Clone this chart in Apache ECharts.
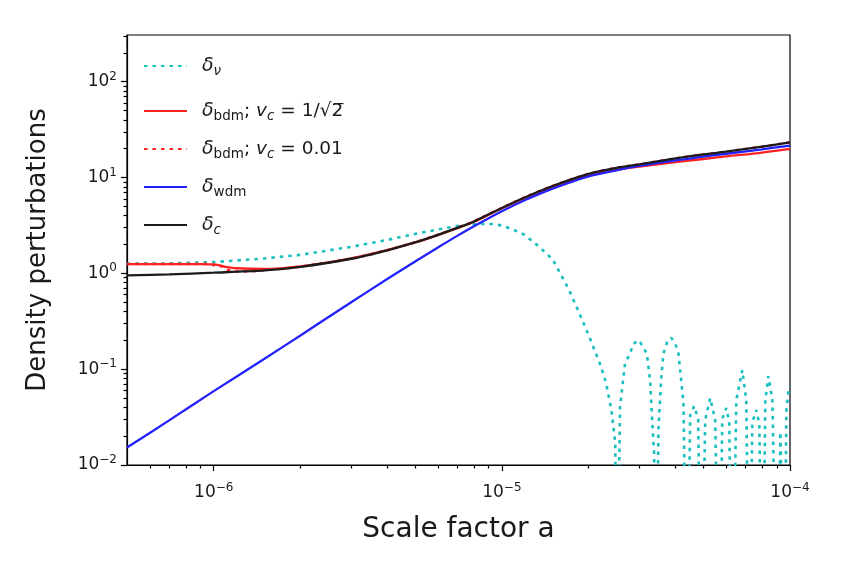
<!DOCTYPE html>
<html><head><meta charset="utf-8">
<script src="https://cdn.jsdelivr.net/npm/echarts@6/dist/echarts.min.js"></script>
<style>html,body{margin:0;padding:0;background:#fff}#c{width:843px;height:570px}</style>
</head><body><div id="c"></div>
<script>
// ---- data ----
const xMin = 5e-7, xMax = 1e-4, yMin = 0.01, yMax = 307;
const aGrid = [5e-7, 7e-7, 1e-6, 1.5e-6, 2e-6, 3e-6, 4e-6, 5e-6, 6e-6, 7e-6, 8e-6, 1e-5, 1.2e-5, 1.5e-5, 2e-5, 2.5e-5, 3e-5, 4e-5, 5e-5, 6e-5, 8e-5, 1e-4];
const deltaC = [0.953, 0.977, 1.016, 1.074, 1.17, 1.42, 1.74, 2.10, 2.52, 2.98, 3.48, 4.81, 6.19, 8.15, 10.9, 12.6, 13.7, 15.8, 17.4, 18.6, 21.0, 23.3];
const deltaWdm = [0.0152, 0.0292, 0.059, 0.1285, 0.225, 0.50, 0.871, 1.33, 1.86, 2.46, 3.10, 4.45, 5.79, 7.66, 10.3, 11.9, 13.2, 15.1, 16.5, 17.7, 19.7, 21.5];
const aBdm1 = [5e-7, 7e-7, 9e-7, 1e-6, 1.05e-6, 1.1e-6, 1.2e-6, 1.5e-6, 2e-6, 3e-6, 4e-6, 5e-6, 6e-6, 7e-6, 8e-6, 1e-5, 1.2e-5, 1.5e-5, 2e-5, 2.5e-5, 3e-5, 4e-5, 5e-5, 6e-5, 8e-5, 1e-4];
const deltaBdm1 = [1.25, 1.25, 1.25, 1.24, 1.21, 1.17, 1.13, 1.11, 1.18, 1.43, 1.75, 2.10, 2.51, 2.96, 3.45, 4.78, 6.10, 8.02, 10.5, 12.0, 13.0, 14.5, 15.6, 16.6, 18.2, 19.9];
const aBdm2 = [5e-7, 7e-7, 9.5e-7, 1e-6, 1.04e-6, 1.07e-6, 1.1e-6, 1.14e-6, 1.2e-6, 1.35e-6, 1.5e-6, 2e-6, 3e-6, 4e-6, 5e-6, 6e-6, 7e-6, 8e-6, 1e-5, 1.2e-5, 1.5e-5, 2e-5, 2.5e-5, 3e-5, 4e-5, 5e-5, 6e-5, 8e-5, 1e-4];
const deltaBdm2 = [1.25, 1.25, 1.25, 1.22, 1.16, 1.19, 1.10, 1.07, 1.045, 1.055, 1.08, 1.175, 1.425, 1.745, 2.11, 2.53, 2.99, 3.49, 4.82, 6.2, 8.16, 10.9, 12.6, 13.7, 15.8, 17.4, 18.6, 21.0, 23.3];
const aNu = [5e-7, 7e-7, 1e-6, 1.5e-6, 2e-6, 3e-6, 4e-6, 5e-6, 6e-6, 7e-6, 8e-6, 9e-6, 1e-5, 1.1e-5, 1.2e-5, 1.35e-5, 1.5e-5, 1.7e-5, 1.8e-5, 2e-5, 2.2e-5, 2.3e-5, 2.4e-5, 2.475e-5, 2.503e-5,
  2.571e-5, 2.676e-5, 2.785e-5, 2.86e-5, 2.994e-5, 3.184e-5, 3.269e-5, 3.314e-5, 3.376e-5, 3.43e-5,
  3.494e-5, 3.57e-5, 3.637e-5, 3.746e-5, 3.868e-5, 3.994e-5, 4.101e-5, 4.19e-5, 4.268e-5, 4.396e-5,
  4.503e-5, 4.65e-5, 4.801e-5, 4.918e-5,
  5.078e-5, 5.285e-5, 5.501e-5, 5.68e-5,
  5.819e-5, 6.008e-5, 6.154e-5, 6.304e-5,
  6.51e-5, 6.83e-5, 7.052e-5, 7.224e-5,
  7.4e-5, 7.641e-5, 7.826e-5, 8.017e-5,
  8.211e-5, 8.411e-5, 8.686e-5, 9.041e-5,
  9.262e-5, 9.525e-5,
  9.717e-5, 9.873e-5, 1e-4];
const deltaNu = [1.26, 1.27, 1.31, 1.43, 1.56, 1.89, 2.23, 2.58, 2.87, 3.12, 3.25, 3.30, 3.16, 2.84, 2.52, 1.88, 1.40, 0.698, 0.477, 0.227, 0.110, 0.0715, 0.0374, 0.017, 1e-4,
  0.0405, 0.1146, 0.146, 0.185, 0.200, 0.146, 0.0767, 0.0348, 0.0133, 1e-4,
  0.0232, 0.0767, 0.146, 0.191, 0.213, 0.187, 0.146, 0.0767, 0.0443, 1e-4,
  0.033, 0.0412, 0.030, 1e-4,
  0.0294, 0.050, 0.0294, 1e-4,
  0.030, 0.0393, 0.028, 1e-4,
  0.0475, 0.0977, 0.0475, 1e-4,
  0.028, 0.0374, 0.027, 1e-4,
  0.0475, 0.0845, 0.0475, 1e-4,
  0.0221, 1e-4,
  0.0374, 0.0575, 0.0665];
const xMajorTicks = [1e-6, 1e-5, 1e-4];
const xTickLabels = ['{b|10}{p|\u22126}', '{b|10}{p|\u22125}', '{b|10}{p|\u22124}'];
const xMinorTicks = [6e-7, 7e-7, 8e-7, 9e-7, 2e-6, 3e-6, 4e-6, 5e-6, 6e-6, 7e-6, 8e-6, 9e-6, 2e-5, 3e-5, 4e-5, 5e-5, 6e-5, 7e-5, 8e-5, 9e-5];
const yMajorTicks = [0.01, 0.1, 1, 10, 100];
const yTickLabels = ['{b|10}{p|\u22122}', '{b|10}{p|\u22121}', '{b|10}{p|0}', '{b|10}{p|1}', '{b|10}{p|2}'];
const yMinorTicks = [0.02, 0.03, 0.04, 0.05, 0.06, 0.07, 0.08, 0.09, 0.2, 0.3, 0.4, 0.5, 0.6, 0.7, 0.8, 0.9, 2, 3, 4, 5, 6, 7, 8, 9, 20, 30, 40, 50, 60, 70, 80, 90, 200, 300];
const legendTexts = {
  nu: '{g|\u03B4}{si|\u03BD}',
  bdm1: '{g|\u03B4}{s|bdm}{t|; }{i|v}{si|c}{t| = 1/\u221A2\u0305}',
  bdm2: '{g|\u03B4}{s|bdm}{t|; }{i|v}{si|c}{t| = 0.01}',
  wdm: '{g|\u03B4}{s|wdm}',
  c: '{g|\u03B4}{si|c}'
};

// ---- chart ----
const FONT = 'DejaVu Sans';
const TXT = '#1a1a1a';
const pairs = (xs, ys) => xs.map((x, i) => [x, ys[i]]);
const lab = (ticks, labels) => v => {
  const i = ticks.findIndex(t => Math.abs(Math.log10(t) - Math.log10(v)) < 1e-6);
  return i < 0 ? '' : labels[i];
};
const tickRich = {
  b: {fontFamily: FONT, fontSize: 17, lineHeight: 22, color: TXT},
  p: {fontFamily: FONT, fontSize: 12, lineHeight: 12, verticalAlign: 'top', color: TXT}
};
const rich = {
  g: {fontFamily: FONT, fontStyle: 'italic', fontSize: 19, lineHeight: 24, color: TXT},
  t: {fontFamily: FONT, fontSize: 18.5, lineHeight: 24, color: TXT},
  i: {fontFamily: FONT, fontStyle: 'italic', fontSize: 18.5, lineHeight: 24, color: TXT},
  s: {fontFamily: FONT, fontSize: 13.5, lineHeight: 14, verticalAlign: 'bottom', color: TXT},
  si: {fontFamily: FONT, fontStyle: 'italic', fontSize: 13.5, lineHeight: 14, verticalAlign: 'bottom', color: TXT}
};
const legendBase = {
  orient: 'vertical', left: 143, padding: 0, itemWidth: 43, itemHeight: 14, itemGap: 16.5,
  selectedMode: false, itemStyle: {opacity: 0},
  formatter: name => legendTexts[name],
  textStyle: {fontFamily: FONT, fontSize: 18, color: TXT, padding: [0, 0, 0, 10], rich: rich}
};
const tickLine = {color: '#000', width: 1.2};
function majorAxis(extra) {
  return Object.assign({
    type: 'log', logBase: 10, splitLine: {show: false}, minorTick: {show: false}, minorSplitLine: {show: false},
    axisLine: {show: true, onZero: false, lineStyle: {color: '#000', width: 1.2}}
  }, extra);
}
function minorAxis(extra) {
  return Object.assign({
    type: 'log', logBase: 10, splitLine: {show: false}, minorTick: {show: false},
    axisLine: {show: false, onZero: false}, axisLabel: {show: false}
  }, extra);
}
const option = {
  animation: false,
  backgroundColor: '#fff',
  grid: {left: 127, right: 53, top: 35, bottom: 105, show: true, borderColor: '#000', borderWidth: 1.2, containLabel: false},
  xAxis: [
    majorAxis({min: xMin, max: xMax, position: 'bottom',
      name: 'Scale factor a', nameLocation: 'middle', nameGap: 51,
      nameTextStyle: {fontFamily: FONT, fontSize: 28, color: TXT},
      axisTick: {show: true, customValues: xMajorTicks, length: 6, lineStyle: tickLine},
      axisLabel: {show: true, customValues: xMajorTicks, formatter: lab(xMajorTicks, xTickLabels), fontFamily: FONT, fontSize: 17, color: TXT, margin: 17, rich: tickRich}
    }),
    minorAxis({min: xMin, max: xMax, position: 'bottom',
      axisTick: {show: true, customValues: xMinorTicks, length: 3.5, lineStyle: tickLine}})
  ],
  yAxis: [
    majorAxis({min: yMin, max: yMax, position: 'left',
      name: 'Density perturbations', nameLocation: 'middle', nameGap: 76,
      nameTextStyle: {fontFamily: FONT, fontSize: 26, color: TXT},
      axisTick: {show: true, customValues: yMajorTicks, length: 6, lineStyle: tickLine},
      axisLabel: {show: true, customValues: yMajorTicks, formatter: lab(yMajorTicks, yTickLabels), fontFamily: FONT, fontSize: 17, color: TXT, margin: 10, rich: tickRich}
    }),
    minorAxis({min: yMin, max: yMax, position: 'left',
      axisTick: {show: true, customValues: yMinorTicks, length: 3.5, lineStyle: tickLine}})
  ],
  legend: [
    Object.assign({}, legendBase, {top: 56.5, data: ['nu']}),
    Object.assign({}, legendBase, {top: 101.5, data: ['bdm1', 'bdm2', 'wdm', 'c']})
  ],
  series: [
    {name: 'nu', type: 'line', data: pairs(aNu, deltaNu), symbol: 'none', smooth: false,
      lineStyle: {color: '#1abfbf', width: 2.6, type: [3.5, 5]}, itemStyle: {color: '#1abfbf'}},
    {name: 'bdm1', type: 'line', data: pairs(aBdm1, deltaBdm1), symbol: 'none', smooth: 0.3,
      lineStyle: {color: '#ff2222', width: 2.3}, itemStyle: {color: '#ff2222'}},
    {name: 'bdm2', type: 'line', data: pairs(aBdm2, deltaBdm2), symbol: 'none', smooth: 0.3,
      lineStyle: {color: '#ff2222', width: 2.6, type: [3.5, 5]}, itemStyle: {color: '#ff2222'}},
    {name: 'wdm', type: 'line', data: pairs(aGrid, deltaWdm), symbol: 'none', smooth: 0.3,
      lineStyle: {color: '#2222ff', width: 2.3}, itemStyle: {color: '#2222ff'}},
    {name: 'c', type: 'line', data: pairs(aGrid, deltaC), symbol: 'none', smooth: 0.3,
      lineStyle: {color: '#1c1c1c', width: 2.3}, itemStyle: {color: '#1c1c1c'}}
  ]
};
const chart = echarts.init(document.getElementById('c'));
chart.setOption(option);
</script>
</body></html>
